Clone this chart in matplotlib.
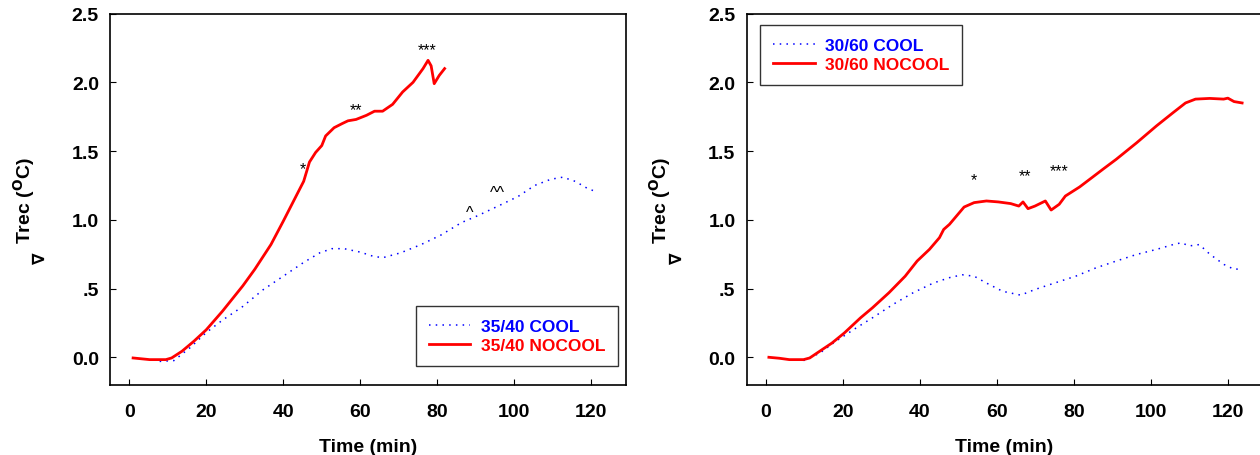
import matplotlib
matplotlib.use('Agg')
import matplotlib.pyplot as plt

plt.rcParams['font.family'] = ['Liberation Sans', 'DejaVu Sans']
plt.rcParams['font.weight'] = 'bold'

# left panel: 35/40
t_nocool_a = [1.0, 5.3, 9.5, 11.0, 13.7, 16.8, 20.0, 24.2, 29.5, 32.6, 36.8, 40.0, 44.2, 45.3,
              46.8, 48.4, 50.0, 51.0, 53.2, 55.3, 56.8, 58.9, 61.6, 63.7, 65.8, 68.4, 71.0,
              73.7, 76.3, 77.6, 78.4, 79.2, 80.5, 81.9]
v_nocool_a = [-0.005, -0.017, -0.017, -0.005, 0.044, 0.117, 0.20, 0.335, 0.52, 0.64, 0.82, 0.99,
              1.22, 1.28, 1.42, 1.49, 1.54, 1.61, 1.67, 1.70, 1.72, 1.73, 1.76, 1.79, 1.79, 1.84,
              1.93, 2.00, 2.10, 2.16, 2.12, 1.99, 2.05, 2.10]
t_cool_a = [7.9, 11.6, 15.8, 20.0, 24.2, 29.5, 34.7, 40.0, 45.3, 49.5, 52.6, 55.8, 60.0, 63.2,
            65.8, 70.5, 75.8, 81.0, 86.3, 90.5, 95.8, 101.0, 105.3, 109.5, 112.6, 115.8, 118.9, 121.6]
v_cool_a = [-0.03, -0.024, 0.07, 0.18, 0.27, 0.37, 0.49, 0.59, 0.69, 0.76, 0.79, 0.79, 0.765,
            0.736, 0.724, 0.76, 0.82, 0.89, 0.98, 1.03, 1.10, 1.17, 1.25, 1.295, 1.31, 1.28, 1.23, 1.20]

# right panel: 30/60
t_nocool_b = [0.8, 3.5, 6.1, 9.8, 11.4, 14.0, 17.2, 20.4, 24.6, 27.7, 32.0, 36.2, 39.3, 42.5,
              45.1, 46.2, 47.7, 49.9, 51.5, 54.1, 57.3, 60.4, 63.6, 65.7, 66.8, 68.1, 69.9, 72.6,
              74.1, 76.2, 77.8, 81.5, 84.7, 87.8, 91.0, 96.3, 101.5, 105.8, 109.0, 111.6, 115.3,
              118.9, 120.0, 121.6, 123.7]
v_nocool_b = [0.0, -0.007, -0.017, -0.017, -0.005, 0.044, 0.104, 0.177, 0.287, 0.36, 0.47, 0.59,
              0.70, 0.785, 0.87, 0.93, 0.967, 1.04, 1.093, 1.125, 1.137, 1.13, 1.118, 1.10, 1.13,
              1.081, 1.10, 1.137, 1.071, 1.113, 1.173, 1.239, 1.307, 1.373, 1.44, 1.56, 1.684,
              1.78, 1.85, 1.878, 1.883, 1.878, 1.885, 1.86, 1.85]
t_cool_b = [9.8, 14.0, 18.2, 23.5, 27.7, 33.0, 38.3, 43.5, 47.8, 51.0, 54.1, 57.3, 61.5, 66.2,
            69.9, 75.2, 80.5, 85.7, 91.0, 96.3, 101.5, 105.8, 107.9, 110.0, 112.6, 115.3, 119.0,
            121.6, 123.7]
v_cool_b = [-0.024, 0.03, 0.117, 0.214, 0.287, 0.384, 0.47, 0.54, 0.58, 0.60, 0.59, 0.54, 0.48,
            0.452, 0.493, 0.542, 0.59, 0.65, 0.70, 0.748, 0.785, 0.82, 0.833, 0.81, 0.82, 0.75,
            0.675, 0.64, 0.644]

marks_a = [('*', 45.0, 1.37), ('**', 59.0, 1.80), ('***', 77.4, 2.24), ('^', 88.4, 1.05), ('^^', 95.6, 1.20)]
marks_b = [('*', 54.1, 1.29), ('**', 67.3, 1.32), ('***', 76.2, 1.36)]

yticks = [0.0, 0.5, 1.0, 1.5, 2.0, 2.5]
ytick_labels = ['0.0', '.5', '1.0', '1.5', '2.0', '2.5']
xticks = [0, 20, 40, 60, 80, 100, 120]

fig = plt.figure(figsize=(12.6, 4.56), dpi=100)
ax1 = fig.add_axes([0.0873, 0.154, 0.4095, 0.814])
ax2 = fig.add_axes([0.5925, 0.154, 0.4095, 0.814])


def draw_panel(ax, t_cool, v_cool, t_nocool, v_nocool, label, marks, loc, anchor):
    ax.plot(t_cool, v_cool, color='#0000ff', linestyle=(0, (1, 3.4)), linewidth=1.1,
            label=label + ' COOL')
    ax.plot(t_nocool, v_nocool, color='#ff0000', linewidth=2, label=label + ' NOCOOL')
    for s, x, y in marks:
        ax.text(x, y, s, ha='center', va='center', fontsize=11.5, fontweight='normal')
    ax.set_xlim(-5, 129)
    ax.set_ylim(-0.2, 2.5)
    ax.set_xticks(xticks)
    ax.set_yticks(yticks)
    ax.set_yticklabels(ytick_labels)
    ax.tick_params(direction='in', length=4, labelsize=14, pad=8)
    ax.tick_params(axis='x', pad=13)
    for sp in ax.spines.values():
        sp.set_linewidth(1.2)
    ax.set_xlabel('Time (min)', fontsize=14, fontweight='bold', labelpad=13)
    ax.set_ylabel(r'Trec ($\mathbf{^{O}}$C)', fontsize=14, fontweight='bold', labelpad=25)
    ax.text(-0.135, 0.345, '\u2207', transform=ax.transAxes, rotation=90, fontsize=12,
            ha='center', va='center', family=['DejaVu Sans'])
    leg = ax.legend(loc=loc, bbox_to_anchor=anchor, fancybox=False, edgecolor='black',
                    fontsize=12.5, handlelength=2.4, borderpad=0.75, labelspacing=0.25,
                    handletextpad=0.6, borderaxespad=0)
    leg.get_frame().set_linewidth(1.0)
    for txt, col in zip(leg.get_texts(), ['#0000ff', '#ff0000']):
        txt.set_color(col)
        txt.set_fontweight('bold')


draw_panel(ax1, t_cool_a, v_cool_a, t_nocool_a, v_nocool_a, '35/40', marks_a,
           'lower right', (0.985, 0.05))
draw_panel(ax2, t_cool_b, v_cool_b, t_nocool_b, v_nocool_b, '30/60', marks_b,
           'upper left', (0.026, 0.97))

fig.savefig('out.png', dpi=100)
